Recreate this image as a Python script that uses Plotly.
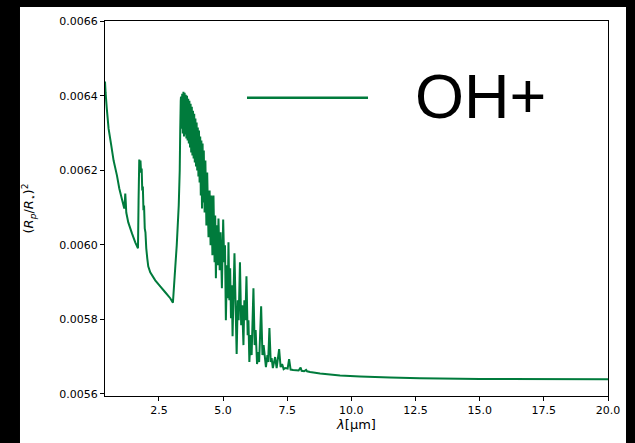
import plotly.graph_objects as go

# Transmission spectrum of an OH+ atmosphere: wavelength (micron) vs transit depth (ppm)
wavelength_um = [
    0.400, 0.423, 0.470, 0.540, 0.645, 0.735, 0.867, 0.957, 1.073, 1.151,
    1.175, 1.190, 1.210, 1.229, 1.307, 1.451, 1.579, 1.685, 1.708, 1.735,
    1.758, 1.782, 1.805, 1.829, 1.852, 1.875, 1.899, 1.922, 1.949, 1.976,
    2.008, 2.047, 2.085, 2.163, 2.358, 2.553, 2.747, 2.942, 3.047, 3.117,
    3.195, 3.273, 3.312, 3.331, 3.351,
    3.362, 3.386, 3.409, 3.432, 3.456, 3.479, 3.502, 3.526, 3.549, 3.572,
    3.596, 3.619, 3.643, 3.666, 3.689, 3.713, 3.736, 3.759, 3.783, 3.806,
    3.829, 3.853, 3.876, 3.899, 3.923, 3.946, 3.970, 3.993, 4.016, 4.040,
    4.063, 4.086, 4.110, 4.133, 4.156, 4.180, 4.203, 4.226, 4.250,
    4.281, 4.312, 4.351, 4.382, 4.433, 4.476, 4.514, 4.546, 4.585, 4.627,
    4.670, 4.694, 4.721, 4.760, 4.787, 4.822, 4.869, 4.904, 4.955, 5.005,
    5.044, 5.075, 5.110, 5.153, 5.184,
    5.211, 5.246, 5.277, 5.309, 5.340, 5.371, 5.445, 5.530, 5.573, 5.608,
    5.659, 5.706, 5.745, 5.795, 5.830, 5.869, 5.912, 5.959, 5.990, 6.025,
    6.075, 6.114, 6.184, 6.231, 6.270, 6.325, 6.367, 6.406, 6.484, 6.535,
    6.581, 6.671, 6.729, 6.757, 6.807, 6.858, 6.893, 6.940, 7.029, 7.088,
    7.185, 7.243, 7.302, 7.360, 7.418, 7.516, 7.574, 7.633, 7.730, 7.847,
    7.944, 8.022, 8.061, 8.158, 8.236, 8.275, 8.392, 8.781, 9.559, 10.338,
    11.506, 12.673, 15.009, 20.000,
]

depth_ppm = [
    6438.8, 6408.6, 6365.7, 6312.0, 6266.7, 6226.5, 6186.0, 6151.5, 6119.0, 6098.0,
    6119.0, 6138.0, 6114.0, 6087.0, 6060.5, 6031.0, 6007.0, 5991.0, 6119.0, 6229.0,
    6218.5, 6226.5, 6194.0, 6205.0, 6146.0, 6157.0, 6093.0, 6106.0, 6044.5, 6034.0,
    5991.0, 5964.0, 5942.7, 5926.6, 5905.0, 5889.0, 5873.0, 5857.0, 5845.0, 5918.6,
    5999.0, 6106.0, 6200.0, 6307.0, 6387.0,
    6397.9, 6312.2, 6405.9, 6298.8, 6411.3, 6290.8, 6408.6, 6296.1, 6403.2, 6285.4,
    6400.5, 6280.1, 6392.5, 6272.0, 6387.2, 6261.3, 6379.1, 6247.9, 6371.1, 6239.9,
    6360.4, 6231.9, 6352.3, 6221.2, 6339.0, 6210.4, 6328.3, 6199.7, 6314.9, 6183.7,
    6306.8, 6167.6, 6290.8, 6132.8, 6280.1, 6098.0, 6272.0, 6114.1, 6253.3,
    6087.3, 6226.5, 6052.5, 6194.4, 6020.4, 6146.2, 5998.9, 6132.8, 5972.2, 6132.8,
    5953.4, 6079.3, 5910.6, 6052.5, 5945.4, 6071.2, 5932.0, 6033.7, 5883.8, 6068.5,
    5953.4, 5998.9, 5798.1, 5945.4, 5857.0,
    6007.0, 5851.7, 5937.4, 5803.5, 5891.8, 5755.3, 5977.5, 5707.1, 5851.7, 5798.1,
    5953.4, 5784.7, 5838.3, 5731.2, 5851.7, 5798.1, 5915.9, 5758.0, 5798.1, 5685.7,
    5758.0, 5704.4, 5883.8, 5731.2, 5771.4, 5680.3, 5712.5, 5685.7, 5835.6, 5704.4,
    5731.2, 5672.3, 5704.4, 5685.7, 5776.7, 5685.7, 5696.4, 5669.6, 5699.1, 5669.6,
    5720.5, 5672.3, 5680.3, 5666.9, 5669.6, 5668.3, 5693.7, 5665.6, 5664.3, 5663.5,
    5662.9, 5671.0, 5662.1, 5661.0, 5664.8, 5660.8, 5658.9, 5654.9, 5649.5, 5646.9,
    5644.2, 5642.3, 5640.2, 5639.4,
]

x_ticks = [2.5, 5.0, 7.5, 10.0, 12.5, 15.0, 17.5, 20.0]
y_ticks = [0.0056, 0.0058, 0.0060, 0.0062, 0.0064, 0.0066]
species = "OH+"
line_color = "#007b3c"

depth = [d * 1e-6 for d in depth_ppm]

fig = go.Figure()
fig.add_trace(go.Scatter(
    x=wavelength_um, y=depth, mode="lines", name=species,
    line=dict(color=line_color, width=2, simplify=False),
    showlegend=False, hoverinfo="skip",
))

tick_font = dict(family="DejaVu Sans", size=11, color="black")
axis_common = dict(
    showgrid=False, zeroline=False, showline=True, linecolor="black",
    linewidth=1, mirror=True, ticks="outside", ticklen=4, tickwidth=1,
    tickcolor="black", tickfont=tick_font,
)

fig.update_layout(
    width=635, height=443,
    margin=dict(l=105, r=27, t=21, b=47, pad=0),
    paper_bgcolor="black", plot_bgcolor="white",
    xaxis=dict(
        range=[0.4, 20.0], tickvals=x_ticks,
        ticktext=[f"{t:.1f}" for t in x_ticks],
        title=dict(text="<i>λ</i>[μm]", font=dict(family="DejaVu Sans", size=13, color="black"), standoff=3),
        **axis_common,
    ),
    yaxis=dict(
        range=[0.0055946, 0.006601], tickvals=y_ticks,
        ticktext=[f"{t:.4f}" for t in y_ticks],
        title=dict(text="(<i>R</i><sub><i>p</i></sub>/<i>R</i><sub>⋆</sub>)<sup>2</sup>",
                   font=dict(family="DejaVu Sans", size=13, color="black"), standoff=22),
        **axis_common,
    ),
    shapes=[
        # white figure canvas behind the axes
        dict(type="rect", xref="paper", yref="paper", x0=-0.169, x1=1.0358,
             y0=-0.1253, y1=1.0373, fillcolor="white", line=dict(width=0), layer="below"),
        # legend handle
        dict(type="line", xref="paper", yref="paper", x0=0.2823, x1=0.5229,
             y0=0.7955, y1=0.7955, line=dict(color=line_color, width=2.5)),
    ],
    annotations=[
        dict(text=species, xref="paper", yref="paper", x=0.612, y=0.80,
             xanchor="left", yanchor="middle", showarrow=False,
             font=dict(family="Liberation Sans", size=63, color="black")),
    ],
)

fig.write_html("out.html")
